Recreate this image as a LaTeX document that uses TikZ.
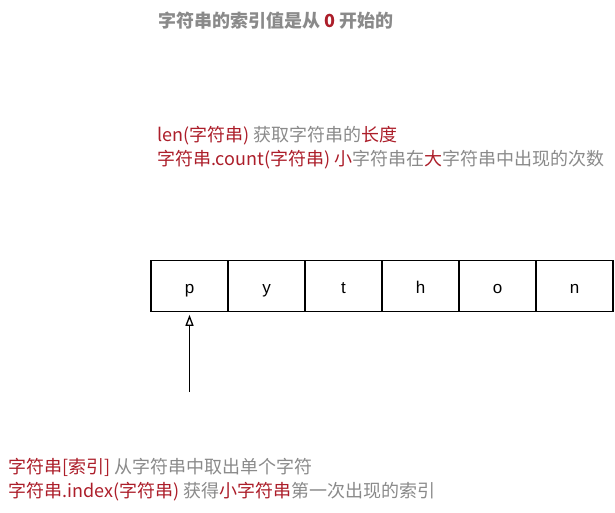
\documentclass[tikz,border=0pt]{standalone}
\usepackage{fontspec}
\setmainfont{Noto Sans CJK SC}
\newfontfamily\cellfont{Liberation Sans}
\usetikzlibrary{arrows.meta}
\usetikzlibrary{positioning}
\definecolor{strred}{RGB}{172,30,42}
\definecolor{strgray}{RGB}{138,138,138}
\newcommand{\hl}[1]{\textcolor{strred}{#1}}

\begin{document}
\begin{tikzpicture}[x=1pt,y=-1pt,
		cell/.style={draw, line width=1.3pt, outer sep=0pt, minimum width=77pt, minimum height=51pt, inner sep=0pt, text height=16pt, text depth=2pt, font=\cellfont\fontsize{17}{17}\selectfont},
		note/.style={anchor=west, inner sep=0pt, align=left, text=strgray, font=\fontsize{18}{23.5}\selectfont}]
		\useasboundingbox (0,0) rectangle (615,512);
		\node[note, font=\bfseries\fontsize{18}{23.5}\selectfont] (title) at (158,21) {字符串的索引值是从 \hl{0} 开始的};
		\node[note] (lenline) at (157,147.5) {\hl{len(字符串)} 获取字符串的\hl{长度}\\
			\hl{字符串.count(字符串)} \hl{小}字符串在\hl{大}字符串中出现的次数};
		\node[cell] (c1) at (189.5,286.3) {p};
		\node[cell, right=0pt of c1] (c2) {y};
		\node[cell, right=0pt of c2] (c3) {t};
		\node[cell, right=0pt of c3] (c4) {h};
		\node[cell, right=0pt of c4] (c5) {o};
		\node[cell, right=0pt of c5] (c6) {n};
		\coordinate (tail) at (189.5,392);
		\draw[line width=1.3pt, -{Triangle[open, length=11pt, width=8pt]}] (tail) -- ([yshift=-3pt]c1.south);
		\node[note] (indexline) at (8,479.5) {\hl{字符串[索引]} 从字符串中取出单个字符\\
			\hl{字符串.index(字符串)} 获得\hl{小字符串}第一次出现的索引};

		\end{tikzpicture}
\end{document}
